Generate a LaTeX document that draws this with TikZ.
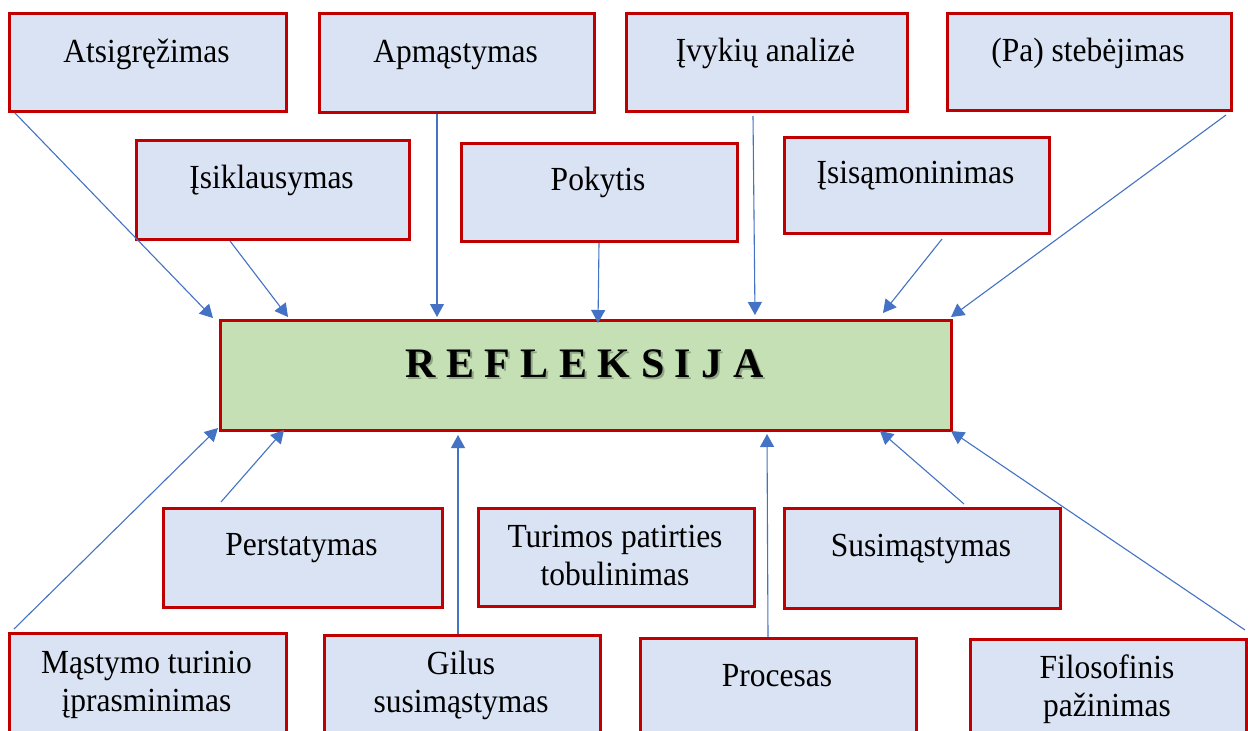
\documentclass[tikz,border=0pt]{standalone}
\usepackage{graphicx}
\usepackage{fontspec}
\setmainfont{Liberation Serif}
\usetikzlibrary{arrows.meta,calc}
\definecolor{boxfill}{HTML}{DAE3F3}
\definecolor{boxred}{HTML}{C00000}
\definecolor{mainfill}{HTML}{C5E0B4}
\definecolor{arrowblue}{HTML}{4472C4}
\definecolor{shadowc}{RGB}{100,120,95}
\newcommand{\tallt}[1]{\scalebox{1}[1.07]{#1}}
\newcommand{\twolines}[2]{\tallt{\vtop{\baselineskip=36.4pt\halign{\hfil##\hfil\cr #1\cr #2\cr}}}}
\begin{document}
\begin{tikzpicture}[x=1pt,y=-1pt,
  box/.style={draw=boxred, fill=boxfill, line width=3pt, inner sep=0pt, anchor=north west},
  mainbox/.style={box, fill=mainfill},
  lbl/.style={font=\fontsize{31.5}{39}\selectfont, inner sep=0pt, anchor=base},
  mainlbl/.style={font=\fontsize{42}{48}\selectfont\bfseries, inner sep=0pt, anchor=base},
  conn/.style={draw=arrowblue, line width=1.1pt, -{Triangle[length=13pt,width=14pt]}}]
\useasboundingbox (0,0) rectangle (1248,731);
\clip (0,0) rectangle (1248,731);
\fill[white] (0,0) rectangle (1248,731);

% boxes
\node[box, minimum width=277pt, minimum height=98pt] (atsi) at (8,12) {};
\node[box, minimum width=275pt, minimum height=99pt] (apm) at (318,12) {};
\node[box, minimum width=281pt, minimum height=98pt] (ivyk) at (625,12) {};
\node[box, minimum width=284pt, minimum height=97pt] (pa) at (946,12) {};
\node[box, minimum width=273pt, minimum height=99pt] (isik) at (135,139) {};
\node[box, minimum width=276pt, minimum height=98pt] (pok) at (460,142) {};
\node[box, minimum width=265pt, minimum height=96pt] (isis) at (783,136) {};
\node[mainbox, minimum width=731pt, minimum height=110pt] (refl) at (219,319) {};
\node[box, minimum width=279pt, minimum height=99pt] (pers) at (162,507) {};
\node[box, minimum width=276pt, minimum height=98pt] (tur) at (477,507) {};
\node[box, minimum width=276pt, minimum height=100pt] (sus) at (783,507) {};
\node[box, minimum width=277pt, minimum height=113pt] (mast) at (8,632) {};
\node[box, minimum width=276pt, minimum height=111pt] (gil) at (323,634) {};
\node[box, minimum width=276pt, minimum height=108pt] (proc) at (639,637) {};
\node[box, minimum width=276pt, minimum height=107pt] (fil) at (969,638) {};

% labels
\node[lbl] (atsi-t) at (146.5,62) {\tallt{Atsigręžimas}};
\node[lbl] (apm-t) at (455.5,62) {\tallt{Apmąstymas}};
\node[lbl] (ivyk-t) at (765.5,61) {\tallt{Įvykių analizė}};
\node[lbl] (pa-t) at (1088,61) {\tallt{(Pa) stebėjimas}};
\node[lbl] (isik-t) at (271.5,188) {\tallt{Įsiklausymas}};
\node[lbl] (pok-t) at (598,190) {\tallt{Pokytis}};
\node[lbl] (isis-t) at (915.5,183) {\tallt{Įsisąmoninimas}};
\node[lbl] (pers-t) at (301.5,555) {\tallt{Perstatymas}};
\node[lbl] (tur-t) at (615,547) {\twolines{Turimos patirties}{tobulinimas}};
\node[lbl] (sus-t) at (921,556) {\tallt{Susimąstymas}};
\node[lbl] (mast-t) at (146.5,673) {\twolines{Mąstymo turinio}{įprasminimas}};
\node[lbl] (gil-t) at (461,674) {\twolines{Gilus}{susimąstymas}};
\node[lbl] (proc-t) at (777,686) {\tallt{Procesas}};
\node[lbl] (fil-t) at (1107,678) {\twolines{Filosofinis}{pažinimas}};

% central label with shadow
\node[mainlbl, text=shadowc, opacity=0.55] (refl-s) at (586.5,379) {R E F L E K S I J A};
\node[mainlbl] (refl-t) at (584.5,377) {R E F L E K S I J A};

% connectors
\draw[conn] ($(atsi.south west)+(7,0)$) -- ($(refl.north west)+(-6,-1)$);
\draw[conn] ($(isik.south west)+(95,0)$) -- ($(refl.north west)+(69,-2)$);
\draw[conn] ($(apm.south west)+(119,0)$) -- ($(refl.north west)+(218,-2)$);
\draw[conn] ($(pok.south west)+(139,0)$) -- ($(refl.north west)+(379,4)$);
\draw[conn] ($(ivyk.south west)+(128,3)$) -- ($(refl.north west)+(536,-4)$);
\draw[conn] ($(isis.south west)+(159,4)$) -- ($(refl.north west)+(664,-6)$);
\draw[conn] ($(pa.south east)+(-7,3)$) -- ($(refl.north east)+(-2,-2)$);
\draw[conn] ($(mast.north west)+(6,-3)$) -- ($(refl.south west)+(-1,-4)$);
\draw[conn] ($(pers.north west)+(59,-5)$) -- ($(refl.south west)+(65,-2)$);
\draw[conn] ($(gil.north west)+(135,0)$) -- ($(refl.south west)+(239,3)$);
\draw[conn] ($(proc.north west)+(129,0)$) -- ($(refl.south west)+(548,2)$);
\draw[conn] ($(sus.north west)+(181,-3)$) -- ($(refl.south west)+(661,-1)$);
\draw[conn] ($(fil.north east)+(-3,-8)$) -- ($(refl.south east)+(-2,-1)$);
\end{tikzpicture}
\end{document}
